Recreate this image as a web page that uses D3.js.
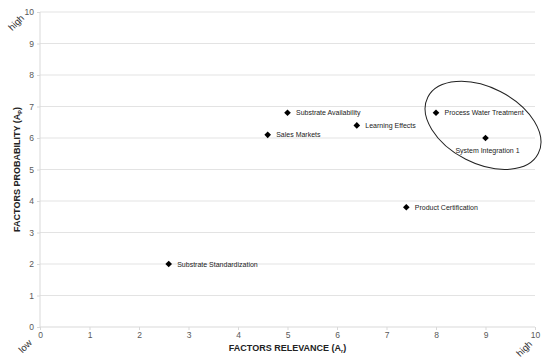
<!DOCTYPE html>
<html>
<head>
<meta charset="utf-8">
<script src="https://cdn.jsdelivr.net/npm/d3@7"></script>
<style>
  body { margin: 0; background: #fff; }
  text { font-family: "Liberation Sans", Arial, sans-serif; }
  .tick text { fill: #595959; font-size: 8.5px; }
  .tick line, .domain { stroke: #d9d9d9; }
</style>
</head>
<body>
<div class="svg_area"></div>
<script>
// chart data
var factors = ["Substrate Standardization", "Sales Markets", "Substrate Availability",
  "Learning Effects", "Product Certification", "Process Water Treatment", "System Integration 1"];
var relevance = [2.6, 4.6, 5.0, 6.4, 7.4, 8.0, 9.0];
var probability = [2.0, 6.1, 6.8, 6.4, 3.8, 6.8, 6.0];
var xTicks = [0, 1, 2, 3, 4, 5, 6, 7, 8, 9, 10];
var yTicks = [0, 1, 2, 3, 4, 5, 6, 7, 8, 9, 10];

var svgWidth = 550;
var svgHeight = 363;
var margin = { top: 12, right: 15, bottom: 36, left: 40 };
var chartWidth = svgWidth - margin.left - margin.right;
var chartHeight = svgHeight - margin.top - margin.bottom;

var svg = d3.select(".svg_area")
  .append("svg")
  .attr("width", svgWidth)
  .attr("height", svgHeight);

var chartGroup = svg.append("g")
  .attr("transform", `translate(${margin.left}, ${margin.top})`);

var xScale = d3.scaleLinear().domain([0, 10]).range([0, chartWidth]);
var yScale = d3.scaleLinear().domain([0, 10]).range([chartHeight, 0]);

// horizontal grid lines
chartGroup.append("g")
  .selectAll("line")
  .data(yTicks.slice(1))
  .enter()
  .append("line")
  .attr("x1", 0)
  .attr("x2", chartWidth)
  .attr("y1", d => yScale(d))
  .attr("y2", d => yScale(d))
  .attr("stroke", "#e3e3e3");

// axes
chartGroup.append("g")
  .attr("transform", `translate(0, ${chartHeight})`)
  .call(d3.axisBottom(xScale).tickValues(xTicks).tickSize(3).tickPadding(2))
  .call(g => g.select(".domain").attr("d", `M0,0H${chartWidth}`));

chartGroup.append("g")
  .call(d3.axisLeft(yScale).tickValues(yTicks).tickSize(3).tickPadding(3))
  .call(g => g.select(".domain").attr("d", `M0,${chartHeight}V0`));

// points (square turned 45 degrees)
chartGroup.selectAll(".pt")
  .data(factors)
  .enter()
  .append("path")
  .attr("class", "pt")
  .attr("d", d3.symbol().type(d3.symbolSquare).size(22))
  .attr("transform", (d, i) => `translate(${xScale(relevance[i])}, ${yScale(probability[i])}) rotate(45)`)
  .attr("fill", "#000");

// point labels
chartGroup.selectAll(".lbl")
  .data(factors)
  .enter()
  .append("text")
  .attr("class", "lbl")
  .attr("x", (d, i) => i === 6 ? xScale(relevance[i]) + 2 : xScale(relevance[i]) + 8.5)
  .attr("y", (d, i) => i === 6 ? yScale(probability[i]) + 15 : yScale(probability[i]) + 2.5)
  .attr("text-anchor", (d, i) => i === 6 ? "middle" : "start")
  .attr("font-size", "7px")
  .attr("fill", "#222")
  .text(d => d);

// ellipse around the top factors
chartGroup.append("ellipse")
  .attr("transform", `translate(${xScale(8.95)}, ${yScale(6.4)}) rotate(27)`)
  .attr("rx", 62)
  .attr("ry", 38)
  .attr("fill", "none")
  .attr("stroke", "#222")
  .attr("stroke-width", 1);

// axis titles
var yTitle = svg.append("text")
  .attr("transform", `translate(20, ${margin.top + chartHeight / 2}) rotate(-90)`)
  .attr("text-anchor", "middle")
  .attr("font-size", "9px")
  .attr("font-weight", "bold")
  .attr("fill", "#222");
yTitle.append("tspan").text("FACTORS PROBABILITY (A");
yTitle.append("tspan").attr("font-size", "5.5px").attr("dy", "2").text("P");
yTitle.append("tspan").attr("dy", "-2").text(")");

var xTitle = svg.append("text")
  .attr("x", margin.left + chartWidth / 2)
  .attr("y", 351)
  .attr("text-anchor", "middle")
  .attr("font-size", "9px")
  .attr("font-weight", "bold")
  .attr("fill", "#222");
xTitle.append("tspan").text("FACTORS RELEVANCE (A");
xTitle.append("tspan").attr("font-size", "5.5px").attr("dy", "2").text("r");
xTitle.append("tspan").attr("dy", "-2").text(")");

// low / high markers
function corner(x, y, t) {
  svg.append("text")
    .attr("transform", `translate(${x}, ${y}) rotate(-45)`)
    .attr("text-anchor", "middle")
    .attr("font-size", "9.5px")
    .attr("fill", "#333")
    .text(t);
}
corner(27.5, 348.5, "low");
corner(18.5, 25, "high");
corner(526.5, 351, "high");
</script>
</body>
</html>
